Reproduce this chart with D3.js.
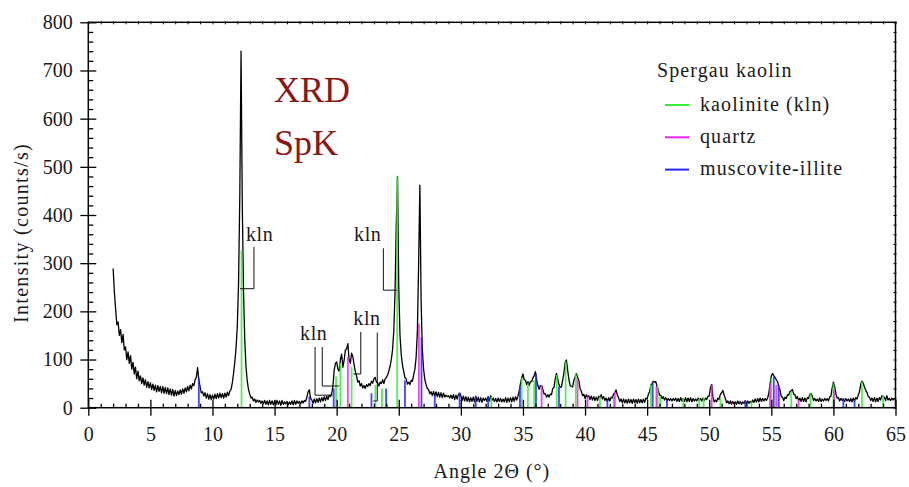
<!DOCTYPE html>
<html>
<head>
<meta charset="utf-8">
<script src="https://cdn.jsdelivr.net/npm/d3@7"></script>
<style>
  body { margin: 0; background: #fff; }
  svg text { font-family: "Liberation Serif", "Times New Roman", serif !important; }
</style>
</head>
<body>
<svg id="chart" width="909" height="487"></svg>
<script>
// Measured pattern: intensity (counts/s) sampled every 0.1° 2θ from 2.0° to 65.0°
const angleStart = 2.0;
const angleStep = 0.1;
const intensity = [
  289, 240, 205, 172, 178, 150, 162, 135, 152, 120,   // 2
  126, 100, 116, 92, 108, 80, 94, 70, 84, 60,         // 3
  76, 56, 66, 50, 62, 47, 58, 42, 54, 41,             // 4
  52, 38, 49, 36, 47, 33, 46, 34, 44, 31,             // 5
  44, 30, 42, 29, 41, 27, 39, 26, 38, 24,             // 6
  36, 25, 35, 27, 37, 28, 39, 30, 41, 33,             // 7
  44, 35, 47, 39, 50, 46, 58, 63, 83, 58,             // 8
  44, 31, 33, 24, 31, 20, 29, 18, 27, 17,             // 9
  26, 18, 28, 19, 29, 20, 30, 21, 29, 20,             // 10
  30, 22, 32, 25, 35, 38, 52, 72, 95, 125,            // 11
  170, 260, 440, 740, 420, 240, 140, 85, 55, 38,      // 12
  28, 20, 22, 14, 18, 11, 16, 12, 15, 9,              // 13
  14, 8, 15, 7, 14, 6, 15, 7, 14, 6,                  // 14
  14, 6, 15, 7, 14, 5, 15, 7, 12, 8,                  // 15
  13, 6, 12, 7, 14, 6, 15, 7, 14, 9,                  // 16
  13, 8, 14, 10, 15, 13, 22, 33, 37, 20,              // 17
  16, 9, 18, 10, 19, 11, 20, 12, 21, 14,              // 18
  23, 15, 24, 17, 26, 23, 30, 45, 78, 92,             // 19
  95, 80, 76, 100, 111, 84, 98, 120, 122, 133,        // 20
  100, 92, 113, 106, 90, 75, 66, 53, 56, 45,          // 21
  50, 41, 46, 40, 48, 44, 50, 46, 55, 51,             // 22
  60, 63, 53, 52, 45, 53, 50, 58, 50, 60,             // 23
  62, 68, 76, 86, 100, 120, 160, 240, 380, 480,       // 24
  250, 150, 110, 88, 75, 62, 60, 49, 53, 48,          // 25
  57, 55, 68, 80, 105, 160, 300, 462, 220, 120,       // 26
  80, 58, 48, 40, 38, 29, 33, 25, 34, 24,             // 27
  33, 23, 32, 22, 31, 21, 30, 22, 26, 23,             // 28
  25, 20, 26, 19, 27, 17, 26, 18, 27, 30,             // 29
  25, 15, 24, 14, 23, 13, 22, 12, 21, 13,             // 30
  22, 12, 24, 13, 22, 12, 21, 11, 20, 15,             // 31
  20, 13, 23, 14, 25, 15, 20, 13, 19, 12,             // 32
  20, 13, 19, 12, 18, 12, 21, 11, 20, 12,             // 33
  21, 12, 22, 13, 23, 16, 24, 35, 50, 62,             // 34
  70, 58, 57, 48, 54, 46, 54, 54, 62, 66,             // 35
  75, 58, 46, 38, 46, 46, 38, 28, 29, 22,             // 36
  27, 22, 28, 27, 40, 42, 60, 71, 60, 48,             // 37
  42, 43, 57, 73, 94, 99, 78, 59, 46, 44,             // 38
  43, 57, 64, 71, 63, 57, 40, 34, 25, 28,             // 39
  19, 27, 22, 25, 17, 24, 16, 23, 15, 22,             // 40
  15, 24, 21, 27, 18, 23, 15, 20, 13, 21,             // 41
  14, 22, 20, 29, 31, 37, 26, 21, 13, 18,             // 42
  10, 18, 10, 17, 9, 18, 10, 17, 9, 18,               // 43
  10, 17, 9, 18, 10, 17, 10, 18, 11, 20,              // 44
  18, 28, 33, 47, 50, 55, 53, 54, 43, 37,             // 45
  26, 26, 19, 23, 16, 21, 14, 19, 15, 19,             // 46
  14, 19, 15, 20, 13, 19, 13, 21, 14, 19,             // 47
  13, 21, 12, 20, 13, 21, 12, 19, 14, 18,             // 48
  14, 20, 15, 19, 14, 20, 15, 20, 17, 24,             // 49
  24, 42, 48, 22, 12, 16, 12, 20, 17, 28,             // 50
  31, 36, 26, 19, 10, 14, 8, 14, 7, 13,               // 51
  8, 12, 7, 14, 8, 13, 7, 12, 9, 14,                  // 52
  8, 14, 9, 13, 10, 16, 11, 18, 12, 19,               // 53
  12, 20, 13, 19, 14, 19, 15, 20, 30, 50,             // 54
  66, 71, 66, 63, 58, 54, 43, 37, 23, 22,             // 55
  15, 22, 19, 27, 26, 34, 35, 38, 28, 27,             // 56
  19, 23, 15, 20, 13, 21, 13, 20, 12, 21,             // 57
  19, 28, 29, 24, 15, 19, 14, 18, 13, 20,             // 58
  13, 18, 14, 19, 15, 19, 14, 22, 24, 41,             // 59
  53, 44, 29, 20, 21, 14, 19, 15, 18, 13,             // 60
  19, 14, 18, 13, 19, 12, 20, 14, 21, 18,             // 61
  26, 33, 49, 55, 51, 43, 36, 32, 23, 22,             // 62
  15, 20, 13, 21, 12, 20, 13, 21, 16, 25,             // 63
  23, 22, 15, 25, 16, 19, 15, 20, 16, 19,             // 64
  17                                                  // 65
];

// Reference reflections of the identified phases (2θ in °, drawn height in counts/s)
const kaoliniteAngles  = [12.34, 19.95, 20.3, 21.2, 23.12, 23.65, 24.87, 32.45, 34.9, 35.4, 35.9, 37.72, 38.44, 39.25, 41.2, 42.3, 45.3, 45.85, 46.05, 47.9, 49.2, 49.55, 50.9, 53.4, 55.0, 56.6, 58.15, 60.0, 62.3, 64.0];
const kaoliniteHeights = [327, 65, 92, 85, 47, 40, 480, 22, 61, 51, 57, 68, 96, 71, 23, 23, 47, 45, 23, 20, 18, 20, 20, 13, 60, 33, 30, 51, 54, 25];
const quartzAngles  = [20.9, 26.62, 36.5, 39.4, 40.2, 42.4, 45.75, 50.2, 54.9, 55.4, 57.2, 60.05];
const quartzHeights = [106, 175, 47, 61, 23, 33, 44, 47, 51, 47, 16, 37];
const muscoviteAngles  = [8.9, 17.8, 19.76, 22.8, 23.98, 25.5, 26.83, 27.9, 29.9, 31.2, 32.2, 34.76, 36.05, 37.9, 41.8, 45.45, 46.6, 52.9, 55.2, 55.6, 60.8, 61.7];
const muscoviteHeights = [61, 23, 40, 30, 40, 57, 147, 26, 31, 24, 23, 44, 71, 44, 16, 53, 16, 16, 65, 47, 20, 16];

const phaseNames  = ["kaolinite (kln)", "quartz", "muscovite-illite"];
const phaseColors = ["#33ee33", "#ee22ee", "#2525ff"];

// "kln" callouts: label anchor and leader polylines, in (2θ, counts/s)
const calloutLabels = [[12.70, 345], [21.40, 347], [17.05, 140], [21.34, 171]];
const calloutLeaders = [
  [[13.34, 334], [13.34, 247], [12.22, 247]],
  [[23.76, 331], [23.76, 244], [24.84, 244]],
  [[18.26, 126], [18.26, 26], [19.68, 26]],
  [[18.84, 126], [18.84, 45], [20.21, 45]],
  [[21.94, 157], [21.94, 70], [21.34, 70]],
  [[23.27, 156], [23.27, 14], [22.95, 14]]
];

const xMajorTicks = [0, 5, 10, 15, 20, 25, 30, 35, 40, 45, 50, 55, 60, 65];
const yMajorTicks = [0, 100, 200, 300, 400, 500, 600, 700, 800];
const xMinorTicks = d3.range(0, 66, 1).filter(v => v % 5 !== 0);
const yMinorTicks = d3.range(0, 801, 20).filter(v => v % 100 !== 0);

// ---- layout ----
const serif = "'Liberation Serif', 'Times New Roman', serif";
const svg = d3.select("#chart").style("font-family", serif);
const x = d3.scaleLinear().domain([0, 65]).range([88.3, 895.5]);
const y = d3.scaleLinear().domain([0, 800]).range([407.7, 22.3]);
const [x0, x1] = x.range();
const [y0, y1] = y.range();
const textColor = "#1a1a1a";

svg.append("defs").append("clipPath").attr("id", "plot-clip")
  .append("rect").attr("x", x0).attr("y", y1).attr("width", x1 - x0).attr("height", y0 - y1);

const plot = svg.append("g").attr("clip-path", "url(#plot-clip)");

// diffraction pattern
const pattern = intensity.map((v, i) => [+(angleStart + i * angleStep).toFixed(2), v]);
plot.append("path")
  .datum(pattern)
  .attr("fill", "none")
  .attr("stroke", "#000")
  .attr("stroke-width", 1.3)
  .attr("stroke-linejoin", "round")
  .attr("d", d3.line().x(d => x(d[0])).y(d => y(d[1])));

// phase reflection sticks
const phases = [
  [kaoliniteAngles, kaoliniteHeights],
  [quartzAngles, quartzHeights],
  [muscoviteAngles, muscoviteHeights]
];
phases.forEach(([angles, heights], p) => {
  plot.append("g").selectAll("line")
    .data(angles.map((a, i) => [a, heights[i]]))
    .join("line")
    .attr("x1", d => x(d[0])).attr("x2", d => x(d[0]))
    .attr("y1", y(0)).attr("y2", d => y(d[1]))
    .attr("stroke", phaseColors[p])
    .attr("stroke-width", 1.8)
    .attr("stroke-opacity", 0.85);
});

// callouts
const callouts = svg.append("g");
callouts.selectAll("path")
  .data(calloutLeaders)
  .join("path")
  .attr("fill", "none")
  .attr("stroke", "#111")
  .attr("stroke-width", 1)
  .attr("d", d3.line().x(d => x(d[0])).y(d => y(d[1])));
callouts.selectAll("text")
  .data(calloutLabels)
  .join("text")
  .attr("x", d => x(d[0])).attr("y", d => y(d[1]))
  .style("font-family", serif)
  .attr("font-size", 20).attr("letter-spacing", "0.6px")
  .attr("fill", textColor)
  .text("kln");

// ---- axes ----
function styleAxis(g) {
  g.attr("font-family", null);
  g.select(".domain").remove();
  g.selectAll(".tick line").attr("stroke", "#000").attr("stroke-width", 1.3);
  g.selectAll(".tick text").attr("font-size", 20).attr("fill", textColor)
    .style("font-family", serif);
}

svg.append("g").attr("transform", `translate(0,${y0})`)
  .call(d3.axisBottom(x).tickValues(xMajorTicks).tickSize(8).tickPadding(11).tickFormat(d3.format("d")))
  .call(styleAxis);
svg.append("g").attr("transform", `translate(0,${y0})`)
  .call(d3.axisBottom(x).tickValues(xMajorTicks).tickSize(-8).tickFormat(""))
  .call(styleAxis);
svg.append("g").attr("transform", `translate(0,${y0})`)
  .call(d3.axisBottom(x).tickValues(xMinorTicks).tickSize(-4).tickFormat(""))
  .call(styleAxis);

svg.append("g").attr("transform", `translate(${x0},0)`)
  .call(d3.axisLeft(y).tickValues(yMajorTicks).tickSize(8).tickPadding(7.5).tickFormat(d3.format("d")))
  .call(styleAxis);
svg.append("g").attr("transform", `translate(${x0},0)`)
  .call(d3.axisLeft(y).tickValues(yMajorTicks).tickSize(-8).tickFormat(""))
  .call(styleAxis);
svg.append("g").attr("transform", `translate(${x0},0)`)
  .call(d3.axisLeft(y).tickValues(yMinorTicks).tickSize(-5).tickFormat(""))
  .call(styleAxis);

// fine ticks on the top and right edges
svg.append("g").attr("transform", `translate(0,${y1 - 1})`)
  .call(d3.axisBottom(x).tickValues(d3.range(0, 66, 1)).tickSize(3).tickFormat(""))
  .call(styleAxis)
  .call(g => g.selectAll(".tick line").attr("stroke-width", 1));
svg.append("g").attr("transform", `translate(${x1 + 1},0)`)
  .call(d3.axisLeft(y).tickValues(d3.range(0, 801, 20)).tickSize(3).tickFormat(""))
  .call(styleAxis)
  .call(g => g.selectAll(".tick line").attr("stroke-width", 1));

// frame
svg.append("rect")
  .attr("x", x0).attr("y", y1).attr("width", x1 - x0).attr("height", y0 - y1)
  .attr("fill", "none").attr("stroke", "#000").attr("stroke-width", 1.5);

// axis titles
svg.append("text")
  .attr("x", (x0 + x1) / 2).attr("y", 478)
  .attr("text-anchor", "middle").attr("font-size", 20).attr("letter-spacing", "1px")
  .style("font-family", serif)
  .attr("fill", textColor)
  .text("Angle 2Θ (°)");
svg.append("text")
  .attr("transform", "translate(28,233) rotate(-90)")
  .attr("text-anchor", "middle").attr("font-size", 20).attr("letter-spacing", "1.3px")
  .style("font-family", serif)
  .attr("fill", textColor)
  .text("Intensity (counts/s)");

// sample title
const titleColor = "#8c1616";
svg.append("text").attr("x", 274).attr("y", 102).style("font-family", serif)
  .attr("font-size", 36).attr("fill", titleColor).text("XRD");
svg.append("text").attr("x", 274).attr("y", 155).style("font-family", serif)
  .attr("font-size", 36).attr("fill", titleColor).text("SpK");

// legend
const legend = svg.append("g");
legend.append("text").attr("x", 657).attr("y", 77).style("font-family", serif)
  .attr("font-size", 20).attr("letter-spacing", "1.1px").attr("fill", textColor)
  .text("Spergau kaolin");
const legendRows = legend.selectAll("g.row")
  .data(phaseNames)
  .join("g").attr("class", "row")
  .attr("transform", (d, i) => `translate(0,${110.5 + i * 32.3})`);
legendRows.append("line")
  .attr("x1", 665).attr("x2", 689).attr("y1", -5.5).attr("y2", -5.5)
  .attr("stroke", (d, i) => phaseColors[i]).attr("stroke-width", 2);
legendRows.append("text")
  .attr("x", 700).attr("y", 0).style("font-family", serif)
  .attr("font-size", 20).attr("letter-spacing", "1.1px").attr("fill", textColor)
  .text(d => d);
</script>
</body>
</html>
